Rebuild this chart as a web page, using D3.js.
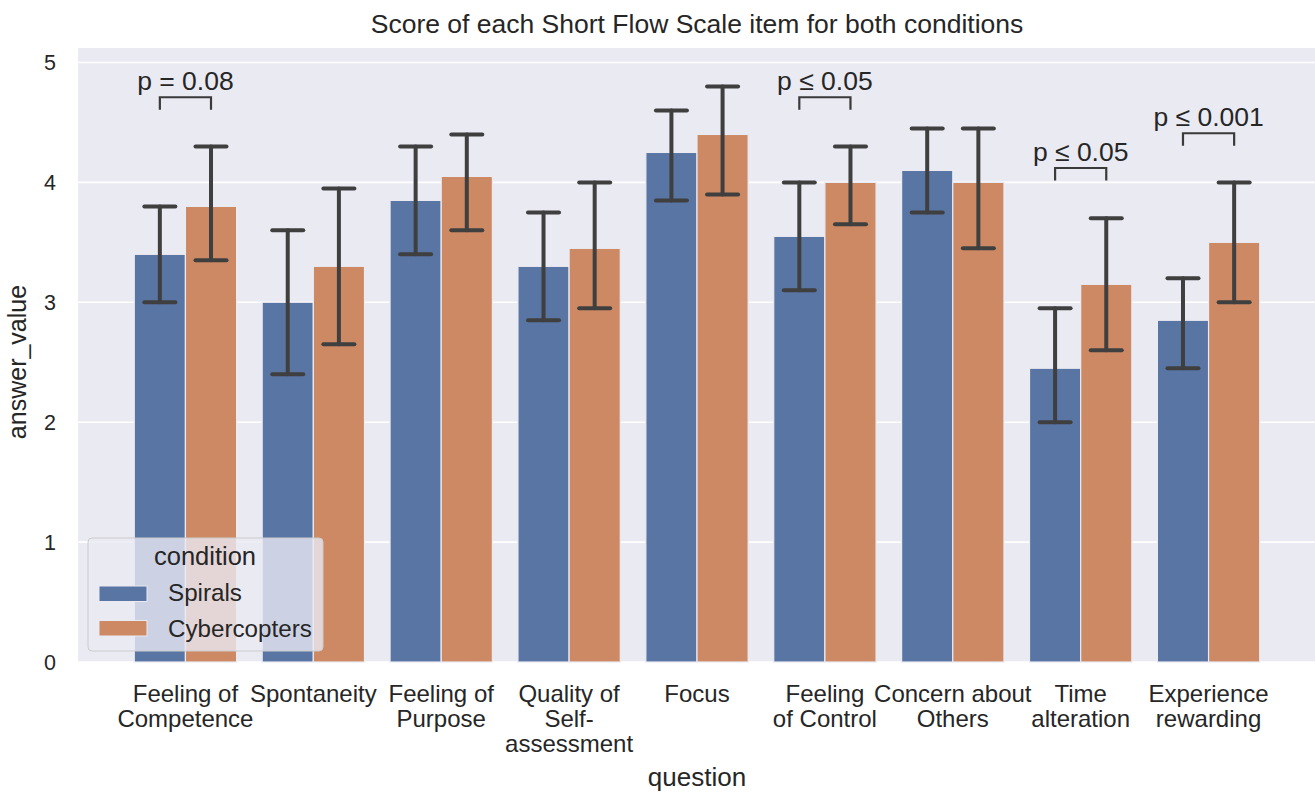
<!DOCTYPE html>
<html>
<head>
<meta charset="utf-8">
<script src="https://cdn.jsdelivr.net/npm/d3@7"></script>
<style>
html,body{margin:0;padding:0;background:#fff;}
svg{display:block;font-family:"Liberation Sans",Arial,Helvetica,sans-serif;}
</style>
</head>
<body>
<svg id="chart" width="1315" height="793"></svg>
<script>
const categories = ["Feeling of Competence","Spontaneity","Feeling of Purpose","Quality of Self-assessment","Focus","Feeling of Control","Concern about Others","Time alteration","Experience rewarding"];
const tickLines = [["Feeling of","Competence"],["Spontaneity"],["Feeling of","Purpose"],["Quality of","Self-","assessment"],["Focus"],["Feeling","of Control"],["Concern about","Others"],["Time","alteration"],["Experience","rewarding"]];
const seriesNames = ["Spirals","Cybercopters"];
const spirals   = [3.40, 3.00, 3.85, 3.30, 4.25, 3.55, 4.10, 2.45, 2.85];
const spiralsLo = [3.00, 2.40, 3.40, 2.85, 3.85, 3.10, 3.75, 2.00, 2.45];
const spiralsHi = [3.80, 3.60, 4.30, 3.75, 4.60, 4.00, 4.45, 2.95, 3.20];
const cyber     = [3.80, 3.30, 4.05, 3.45, 4.40, 4.00, 4.00, 3.15, 3.50];
const cyberLo   = [3.35, 2.65, 3.60, 2.95, 3.90, 3.65, 3.45, 2.60, 3.00];
const cyberHi   = [4.30, 3.95, 4.40, 4.00, 4.80, 4.30, 4.45, 3.70, 4.00];
const yTicks = [0,1,2,3,4,5];
const annGroups = [0,5,7,8];
const annTexts = ["p = 0.08","p \u2264 0.05","p \u2264 0.05","p \u2264 0.001"];
const annLevels = [4.71, 4.71, 4.12, 4.41];

const colors = ["#5875a4","#cc8963"];
const svg = d3.select("#chart");
const L = 78, R = 1316, T = 48, B = 662;

const x = d3.scaleLinear().domain([-0.84, 8.84]).range([L, R]);
const y = d3.scaleLinear().domain([0, 5.11]).range([B, B - 5.11*119.9]);
const bw = x(0.4) - x(0);

svg.append("rect").attr("x", L).attr("y", T).attr("width", R - L).attr("height", B - T).attr("fill", "#eaeaf2");

svg.append("g").selectAll("line").data(yTicks).join("line")
  .attr("x1", L).attr("x2", R).attr("y1", d => y(d)).attr("y2", d => y(d))
  .attr("stroke", "#fff").attr("stroke-width", 1.6);

svg.append("g").selectAll("text").data(yTicks).join("text")
  .attr("x", 56).attr("y", d => y(d)).attr("dy", "0.36em")
  .attr("text-anchor", "end").attr("font-size", 21.5).attr("fill", "#262626")
  .text(d => d);

const series = [
  {vals: spirals, lo: spiralsLo, hi: spiralsHi, off: -1},
  {vals: cyber, lo: cyberLo, hi: cyberHi, off: 0}
];

series.forEach((s, si) => {
  svg.append("g").selectAll("rect").data(s.vals).join("rect")
    .attr("x", (d, i) => x(i + s.off * 0.4))
    .attr("y", d => y(d))
    .attr("width", bw)
    .attr("height", d => y(0) - y(d))
    .attr("fill", colors[si]).attr("stroke", "#eaeaf2").attr("stroke-width", 1.2);
});

const cap = 15.5;
series.forEach((s, si) => {
  const g = svg.append("g").attr("stroke", "#3f3f3f").attr("stroke-width", 4).attr("stroke-linecap", "round");
  s.vals.forEach((d, i) => {
    const cx = x(i + s.off * 0.4 + 0.2);
    g.append("line").attr("x1", cx).attr("x2", cx).attr("y1", y(s.lo[i])).attr("y2", y(s.hi[i]));
    g.append("line").attr("x1", cx - cap).attr("x2", cx + cap).attr("y1", y(s.lo[i])).attr("y2", y(s.lo[i]));
    g.append("line").attr("x1", cx - cap).attr("x2", cx + cap).attr("y1", y(s.hi[i])).attr("y2", y(s.hi[i]));
  });
});

// annotations
const ag = svg.append("g");
annGroups.forEach((gi, k) => {
  const x1 = x(gi - 0.2), x2 = x(gi + 0.2), yy = y(annLevels[k]);
  ag.append("path")
    .attr("d", `M${x1},${yy + 12.5}L${x1},${yy}L${x2},${yy}L${x2},${yy + 12.5}`)
    .attr("fill", "none").attr("stroke", "#3a3a3a").attr("stroke-width", 2.2);
  ag.append("text").attr("x", (x1 + x2) / 2).attr("y", yy - 7.5)
    .attr("text-anchor", "middle").attr("font-size", 26.5).attr("fill", "#262626")
    .text(annTexts[k]);
});

// x tick labels
tickLines.forEach((lines, i) => {
  const t = svg.append("text").attr("x", x(i)).attr("y", 702)
    .attr("text-anchor", "middle").attr("font-size", 24).attr("fill", "#262626");
  lines.forEach((ln, j) => {
    t.append("tspan").attr("x", x(i)).attr("y", 702 + j * 25).text(ln);
  });
});

// axis labels and title
svg.append("text").attr("x", 697).attr("y", 786).attr("text-anchor", "middle")
  .attr("font-size", 26).attr("fill", "#262626").text("question");
svg.append("text").attr("transform", `translate(26,${362}) rotate(-90)`)
  .attr("text-anchor", "middle").attr("font-size", 25).attr("fill", "#262626").text("answer_value");
svg.append("text").attr("x", 697).attr("y", 33).attr("text-anchor", "middle")
  .attr("font-size", 26.5).attr("fill", "#262626").text("Score of each Short Flow Scale item for both conditions");

// legend
const lg = svg.append("g");
lg.append("rect").attr("x", 88).attr("y", 538).attr("width", 235).attr("height", 113).attr("rx", 4)
  .attr("fill", "#eaeaf2").attr("fill-opacity", 0.8).attr("stroke", "#cccccc").attr("stroke-width", 1);
lg.append("text").attr("x", 205).attr("y", 565).attr("text-anchor", "middle")
  .attr("font-size", 25.5).attr("fill", "#262626").text("condition");
seriesNames.forEach((n, i) => {
  lg.append("rect").attr("x", 99).attr("y", 586 + i * 34.5).attr("width", 48).attr("height", 15.5)
    .attr("fill", colors[i]).attr("stroke", "#eaeaf2").attr("stroke-width", 1);
  lg.append("text").attr("x", 168).attr("y", 601 + i * 35.5).attr("font-size", 24.2)
    .attr("fill", "#262626").text(n);
});
</script>
</body>
</html>
